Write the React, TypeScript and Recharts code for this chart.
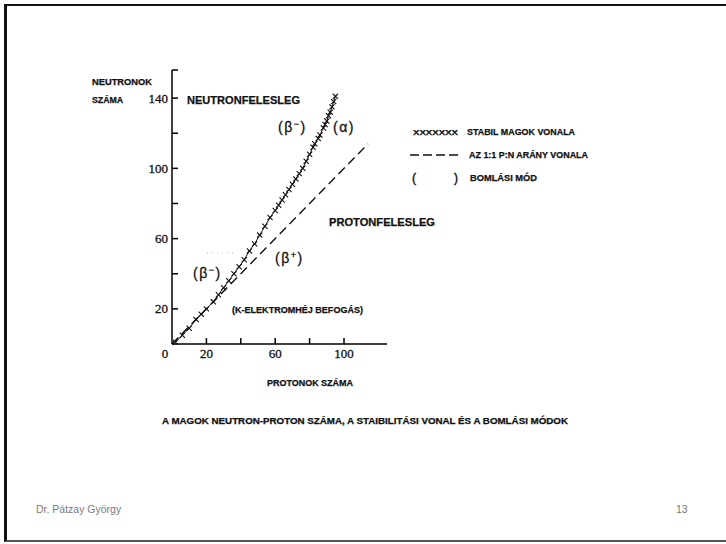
import React from "react";
import { ComposedChart, Line, XAxis, YAxis } from "recharts";

// stability line: proton number (Z) vs neutron number (N)
const stableZ = [2, 6, 10, 14, 17, 20, 24, 27, 30, 33, 36, 39, 42, 45, 48, 51, 54, 57, 60, 62, 64, 66, 68, 70, 72, 74, 76, 78, 80, 82, 83, 85, 86, 88, 89, 90, 91, 92, 93, 94, 95];
const stableN = [1, 5, 9, 14, 17, 20, 24, 28, 32, 36, 40, 44, 48, 53, 57, 62, 67, 72, 76, 79, 82, 85, 88, 91, 94, 97, 100, 104, 108, 112, 114, 117, 119, 123, 125, 127, 130, 132, 135, 138, 141];

// 1:1 P:N line end points
const diagZ = [0, 114];
const diagN = [0, 114];

const xTicks = [0, 20, 40, 60, 80, 100];
const xLabeled = [0, 20, 60, 100];
const yTicks = [20, 40, 60, 80, 100, 120, 140, 156];
const yLabeled = [20, 60, 100, 140];

const stable = stableZ.map((z, i) => ({ z, n: stableN[i] }));
const diag = diagZ.map((z, i) => ({ z, n: diagN[i] }));

const SANS = "'Liberation Sans', Arial, sans-serif";
const SERIF = "'Liberation Serif', 'Times New Roman', serif";
const MARGIN = 4;

function XTick(props: any) {
  const { x, y, payload } = props;
  const ay = y - MARGIN;
  const v = payload.value;
  return (
    <g>
      {v !== 0 && <line x1={x} x2={x} y1={ay} y2={ay - 6} stroke="#000" strokeWidth={1.5} />}
      {xLabeled.includes(v) && (
        <text x={v === 0 ? x - 7 : x} y={ay + 14} textAnchor="middle" fontFamily={SERIF} fontSize={13} fill="#111" stroke="#111" strokeWidth={0.3}>
          {v}
        </text>
      )}
    </g>
  );
}

function YTick(props: any) {
  const { x, y, payload } = props;
  const ax = x + MARGIN;
  const v = payload.value;
  return (
    <g>
      <line x1={ax} x2={ax + 6} y1={y} y2={y} stroke="#000" strokeWidth={1.5} />
      {yLabeled.includes(v) && (
        <text x={ax - 4} y={y + 4.5} textAnchor="end" fontFamily={SERIF} fontSize={13} fill="#111" stroke="#111" strokeWidth={0.3}>
          {v}
        </text>
      )}
    </g>
  );
}

function Cross(props: any) {
  const { cx, cy, index } = props;
  if (cx == null || cy == null) return <g key={index} />;
  const s = 2.6;
  return (
    <g key={index} stroke="#111" strokeWidth={1.1}>
      <line x1={cx - s} y1={cy - s} x2={cx + s} y2={cy + s} />
      <line x1={cx - s} y1={cy + s} x2={cx + s} y2={cy - s} />
    </g>
  );
}

function Beta({ x, y, sign }: { x: number; y: number; sign: string }) {
  return (
    <text x={x} y={y} fontFamily={SANS} fontSize={14} fill="#111" stroke="#111" strokeWidth={0.3} letterSpacing={1.5}>
      (β
      <tspan dy={-5} fontSize={9}>{sign}</tspan>
      <tspan dy={5}>)</tspan>
    </text>
  );
}

function Lbl({ x, y, w, size = 8.7, children }: { x: number; y: number; w?: number; size?: number; children: React.ReactNode }) {
  return (
    <text
      x={x}
      y={y}
      fontFamily={SANS}
      fontWeight={700}
      fontSize={size}
      fill="#111"
      stroke="#111"
      strokeWidth={0.25}
      textLength={w}
      lengthAdjust={w ? "spacingAndGlyphs" : undefined}
    >
      {children}
    </text>
  );
}

export default function App() {
  return (
    <div style={{ position: "fixed", left: 0, top: 0, width: 726, height: 544, background: "#fff", overflow: "hidden" }}>
      <div
        style={{
          position: "absolute",
          left: 4,
          top: 4,
          width: 740,
          height: 534,
          borderLeft: "3px solid #111",
          borderTop: "2px solid #111",
          borderBottom: "2px solid #555",
        }}
      />
      <div style={{ position: "absolute", left: 0, top: 0 }}>
        <ComposedChart width={726} height={544} margin={{ left: 142, top: 70, right: 339, bottom: 170 }}>
          <XAxis
            type="number"
            dataKey="z"
            domain={[0, 125]}
            ticks={xTicks}
            interval={0}
            height={30}
            tickSize={0}
            tickLine={false}
            tickMargin={MARGIN}
            axisLine={{ stroke: "#000", strokeWidth: 1.5 }}
            tick={<XTick />}
          />
          <YAxis
            type="number"
            domain={[0, 156]}
            ticks={yTicks}
            interval={0}
            width={30}
            tickSize={0}
            tickLine={false}
            tickMargin={MARGIN}
            axisLine={{ stroke: "#000", strokeWidth: 1.5 }}
            tick={<YTick />}
          />
          <Line
            data={diag}
            dataKey="n"
            type="linear"
            stroke="#111"
            strokeWidth={1.4}
            strokeDasharray="9 5"
            dot={false}
            isAnimationActive={false}
          />
          <Line
            data={stable}
            dataKey="n"
            type="linear"
            stroke="#111"
            strokeWidth={1}
            dot={<Cross />}
            isAnimationActive={false}
          />
        </ComposedChart>
      </div>
      <svg width={726} height={544} style={{ position: "absolute", left: 0, top: 0, pointerEvents: "none" }}>
        <Lbl x={92} y={85} w={60} size={8.5}>NEUTRONOK</Lbl>
        <Lbl x={92} y={103} w={31} size={8.5}>SZÁMA</Lbl>
        <Lbl x={187} y={104} w={113} size={11}>NEUTRONFELESLEG</Lbl>
        <Lbl x={329} y={226} w={106} size={11}>PROTONFELESLEG</Lbl>
        <Beta x={278} y={132} sign="−" />
        <text x={333} y={132} fontFamily={SANS} fontSize={14} fill="#111" stroke="#111" strokeWidth={0.3} letterSpacing={1.5}>(α)</text>
        <Beta x={275} y={263} sign="+" />
        <Beta x={193} y={278} sign="−" />
        <line x1={207} y1={253} x2={233} y2={253} stroke="#bbb" strokeWidth={1} strokeDasharray="1 4" />
        <Lbl x={232} y={313} w={131}>(K-ELEKTROMHÉJ BEFOGÁS)</Lbl>
        <Lbl x={267} y={386} w={86}>PROTONOK SZÁMA</Lbl>

        <Lbl x={413} y={135} w={45} size={8}>XXXXXXX</Lbl>
        <Lbl x={467} y={135} w={108}>STABIL MAGOK VONALA</Lbl>
        <line x1={410} y1={155} x2={458} y2={155} stroke="#111" strokeWidth={1.5} strokeDasharray="9 4" />
        <Lbl x={469} y={158} w={119}>AZ 1:1 P:N ARÁNY VONALA</Lbl>
        <text x={412} y={182} fontFamily={SANS} fontSize={12} fill="#111" stroke="#111" strokeWidth={0.4}>(</text>
        <text x={454} y={182} fontFamily={SANS} fontSize={12} fill="#111" stroke="#111" strokeWidth={0.4}>)</text>
        <Lbl x={470} y={181} w={67}>BOMLÁSI MÓD</Lbl>

        <Lbl x={162} y={424} w={406}>A MAGOK NEUTRON-PROTON SZÁMA, A STAIBILITÁSI VONAL ÉS A BOMLÁSI MÓDOK</Lbl>

        <text x={36} y={513} fontFamily={SANS} fontSize={10.5} fill="#7a7a7a">Dr. Pátzay György</text>
        <text x={676} y={513} fontFamily={SANS} fontSize={10.5} fill="#7a7a7a">13</text>
      </svg>
    </div>
  );
}
